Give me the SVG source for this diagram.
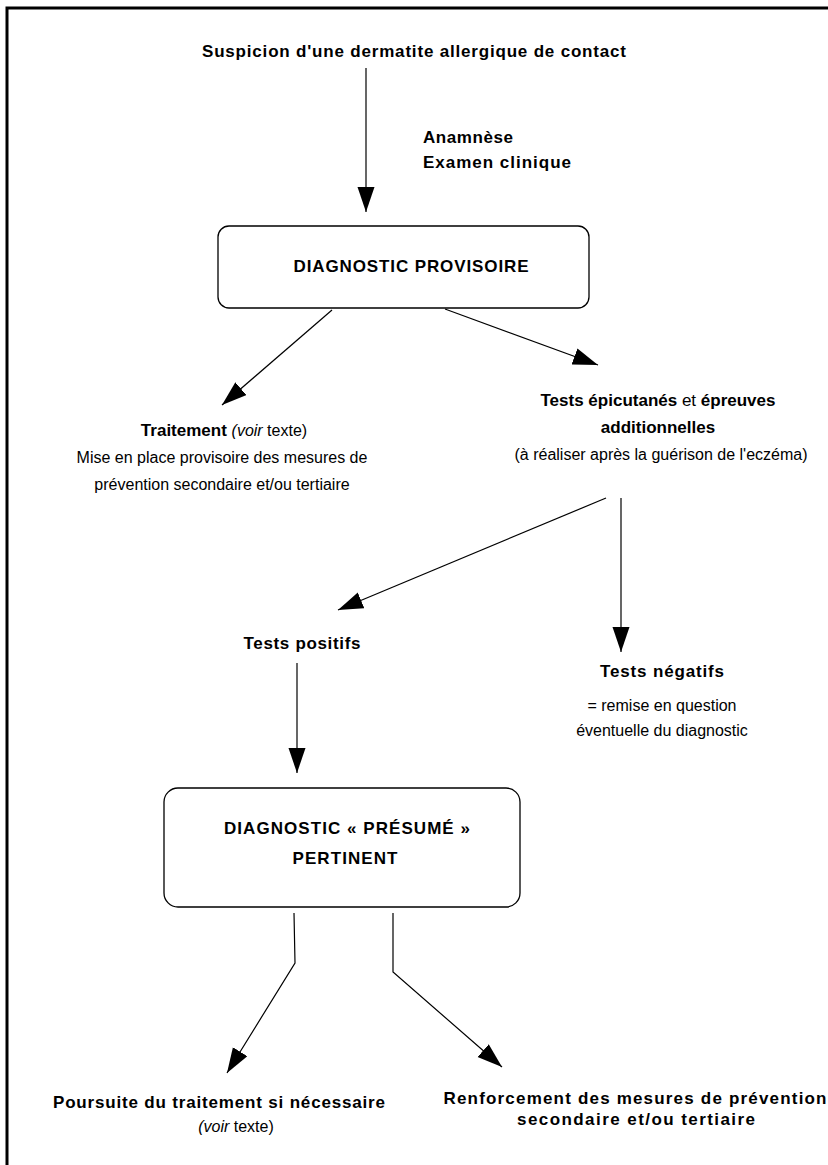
<svg xmlns="http://www.w3.org/2000/svg" width="828" height="1165" viewBox="0 0 828 1165">
<style>
.b{font-family:"Liberation Sans","DejaVu Sans",sans-serif;font-weight:bold;font-size:17px;fill:#000}
.r{font-family:"Liberation Sans","DejaVu Sans",sans-serif;font-size:16px;fill:#000}
.n{font-weight:normal}
.i{font-style:italic}
.box{fill:#fff;stroke:#000;stroke-width:1.3}
.c{fill:none;stroke:#000;stroke-width:1.2;marker-end:url(#ah)}
</style>
<defs>
<marker id="ah" markerUnits="userSpaceOnUse" markerWidth="26" markerHeight="18" refX="25" refY="8.5" orient="auto" viewBox="0 0 26 18">
<path d="M0,0 L25,8.5 L0,17 z" fill="#000"/>
</marker>
</defs>
<rect width="828" height="1165" fill="#fff"/>
<g id="frame"><path d="M7,1165 L7,8 L828,8" fill="none" stroke="#000" stroke-width="3"/></g>

<g id="connectors">
<line class="c" x1="366" y1="68" x2="366" y2="212"/>
<line class="c" x1="332" y1="310" x2="222" y2="405"/>
<line class="c" x1="445" y1="309" x2="598" y2="365"/>
<line class="c" x1="606" y1="498" x2="338" y2="610"/>
<line class="c" x1="621" y1="498" x2="621" y2="652"/>
<line class="c" x1="297" y1="663" x2="297" y2="773"/>
<polyline class="c" points="294,913 295,963 227,1073"/>
<polyline class="c" points="393,913 393,972 502,1067"/>
</g>

<g id="n-suspicion"><text class="b" x="414" y="57" text-anchor="middle" textLength="424" lengthAdjust="spacing">Suspicion d'une dermatite allergique de contact</text></g>
<g id="n-anamnese"><text class="b" x="423" y="143" textLength="90" lengthAdjust="spacing">Anamnèse</text><text class="b" x="423" y="168" textLength="148" lengthAdjust="spacing">Examen clinique</text></g>

<g id="n-diag-prov">
<rect class="box" x="218" y="226" width="371" height="82" rx="11"/>
<text class="b" x="411" y="272" text-anchor="middle" textLength="235" lengthAdjust="spacing">DIAGNOSTIC PROVISOIRE</text>
</g>

<g id="n-traitement">
<text class="b" x="224" y="436" text-anchor="middle">Traitement <tspan class="n i" font-size="16">(voir</tspan><tspan class="n" font-size="16"> texte)</tspan></text>
<text class="r" x="222" y="463" text-anchor="middle">Mise en place provisoire des mesures de</text>
<text class="r" x="222" y="490" text-anchor="middle">prévention secondaire et/ou tertiaire</text>
</g>

<g id="n-tests">
<text class="b" x="658" y="406" text-anchor="middle">Tests épicutanés <tspan class="n">et</tspan> épreuves</text>
<text class="b" x="658" y="433" text-anchor="middle">additionnelles</text>
<text class="r" x="661" y="460" text-anchor="middle">(à réaliser après la guérison de l'eczéma)</text>
</g>

<g id="n-positifs"><text class="b" x="302" y="649" text-anchor="middle" textLength="117" lengthAdjust="spacing">Tests positifs</text></g>

<g id="n-negatifs">
<text class="b" x="662" y="677" text-anchor="middle" textLength="124" lengthAdjust="spacing">Tests négatifs</text>
<text class="r" x="662" y="711" text-anchor="middle">= remise en question</text>
<text class="r" x="662" y="736" text-anchor="middle">éventuelle du diagnostic</text>
</g>

<g id="n-diag-presume">
<rect class="box" x="164" y="788" width="356" height="119" rx="14"/>
<text class="b" x="347" y="834" text-anchor="middle" textLength="246" lengthAdjust="spacing">DIAGNOSTIC « PRÉSUMÉ »</text>
<text class="b" x="345" y="864" text-anchor="middle" textLength="105" lengthAdjust="spacing">PERTINENT</text>
</g>

<g id="n-poursuite">
<text class="b" x="219" y="1108" text-anchor="middle" textLength="332" lengthAdjust="spacing">Poursuite du traitement si nécessaire</text>
<text class="r" x="236" y="1132" text-anchor="middle"><tspan class="i">(voir</tspan> texte)</text>
</g>

<g id="n-renforcement">
<text class="b" x="635" y="1104" text-anchor="middle" textLength="383" lengthAdjust="spacing">Renforcement des mesures de prévention</text>
<text class="b" x="636" y="1125" text-anchor="middle" textLength="238" lengthAdjust="spacing">secondaire et/ou tertiaire</text>
</g>
</svg>
